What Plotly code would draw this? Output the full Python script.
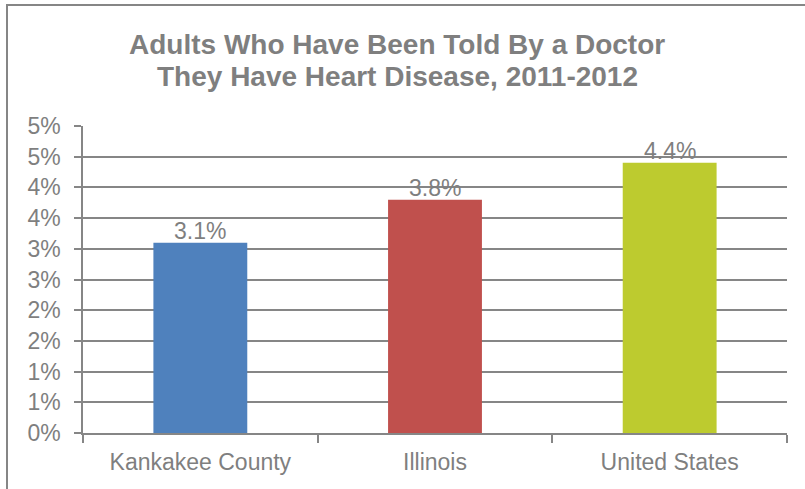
import plotly.graph_objects as go

categories = ["Kankakee County", "Illinois", "United States"]
values = [3.1, 3.8, 4.4]
value_labels = ["3.1%", "3.8%", "4.4%"]
bar_colors = ["#4F81BD", "#C0504D", "#BDCB2F"]
tick_vals = [0, 0.5, 1, 1.5, 2, 2.5, 3, 3.5, 4, 4.5, 5]
tick_text = ["0%", "1%", "1%", "2%", "2%", "3%", "3%", "4%", "4%", "5%", "5%"]
title_lines = ["Adults Who Have Been Told By a Doctor",
               "They Have Heart Disease, 2011-2012"]

GRAY = "#868686"
TXT = "#7F7F7F"
FONT = "Arial, Liberation Sans, sans-serif"

fig = go.Figure(go.Bar(
    x=categories, y=values,
    marker=dict(color=bar_colors, line=dict(width=0)),
    width=0.4,
    hoverinfo="x+y",
))

W, H = 805, 489
ml, mr, mt, mb = 83, 18, 126, 56
pw, ph = W - ml - mr, H - mt - mb


def px_x(x):
    return (x - ml) / pw


def px_y(y):
    return (H - mb - y) / ph


annotations = []
for line, yc in zip(title_lines, [44, 77]):
    annotations.append(dict(
        text=line, xref="paper", yref="paper",
        x=px_x(397), y=px_y(yc), xanchor="center", yanchor="middle",
        showarrow=False,
        font=dict(family=FONT, size=28, color=TXT, weight="bold"),
    ))
for cat, val, lab in zip(categories, values, value_labels):
    annotations.append(dict(
        text=lab, x=cat, y=val, xref="x", yref="y",
        xanchor="center", yanchor="bottom", yshift=-3,
        showarrow=False,
        font=dict(family=FONT, size=23, color=TXT),
    ))

fig.update_layout(
    width=W, height=H,
    margin=dict(l=ml, r=mr, t=mt, b=mb, autoexpand=False),
    paper_bgcolor="white", plot_bgcolor="white",
    showlegend=False,
    font=dict(family=FONT, color=TXT),
    annotations=annotations,
    xaxis=dict(
        showline=True, linecolor=GRAY, linewidth=2,
        ticks="outside", tickson="boundaries", ticklen=8, tickcolor=GRAY, tickwidth=1.5,
        tickfont=dict(family=FONT, size=23, color=TXT),
        ticklabelstandoff=7,
        showgrid=False, automargin=False,
    ),
    yaxis=dict(
        range=[0, 5], tickvals=tick_vals, ticktext=tick_text,
        showline=True, linecolor=GRAY, linewidth=1.5,
        ticks="outside", ticklen=7, tickcolor=GRAY, tickwidth=1.5,
        showgrid=True, gridcolor=GRAY, gridwidth=2,
        tickfont=dict(family=FONT, size=23, color=TXT),
        ticklabelstandoff=9,
        zeroline=False, automargin=False,
    ),
    bargap=0.6,
    shapes=[dict(
        type="rect", xref="paper", yref="paper",
        x0=px_x(7), x1=px_x(W + 20),
        y0=px_y(H + 20), y1=px_y(5),
        line=dict(color=GRAY, width=2), fillcolor="rgba(0,0,0,0)", layer="below",
    )],
)

fig.write_html("out.html", config={"displayModeBar": False},
               post_script="document.body.style.margin='0';")
